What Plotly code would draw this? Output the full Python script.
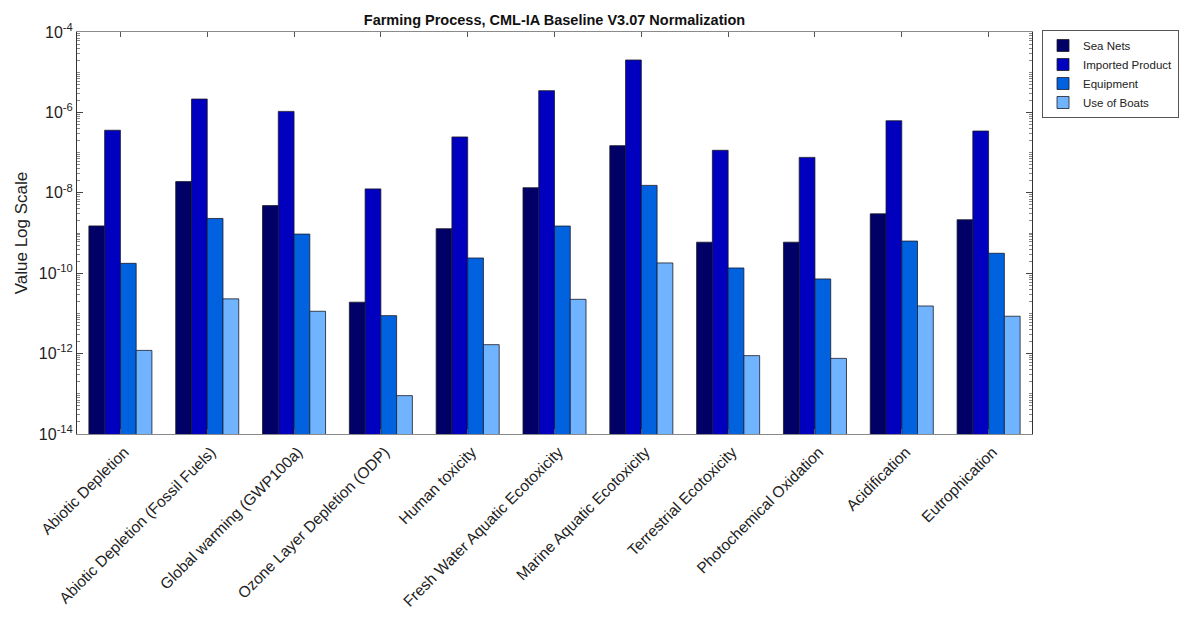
import plotly.graph_objects as go

categories = [
    "Abiotic Depletion",
    "Abiotic Depletion (Fossil Fuels)",
    "Global warming (GWP100a)",
    "Ozone Layer Depletion (ODP)",
    "Human toxicity",
    "Fresh Water Aquatic Ecotoxicity",
    "Marine Aquatic Ecotoxicity",
    "Terrestrial Ecotoxicity",
    "Photochemical Oxidation",
    "Acidification",
    "Eutrophication",
]

sea_nets = [1.5e-9, 1.9e-8, 4.8e-9, 1.9e-11, 1.28e-9, 1.34e-8, 1.49e-7, 5.9e-10, 5.9e-10, 3.0e-9, 2.14e-9]
imported_product = [3.6e-7, 2.15e-6, 1.06e-6, 1.25e-8, 2.45e-7, 3.47e-6, 2.01e-5, 1.14e-7, 7.6e-8, 6.2e-7, 3.44e-7]
equipment = [1.76e-10, 2.3e-9, 9.4e-10, 8.8e-12, 2.39e-10, 1.49e-9, 1.53e-8, 1.35e-10, 7.2e-11, 6.3e-10, 3.13e-10]
use_of_boats = [1.2e-12, 2.3e-11, 1.13e-11, 9.0e-14, 1.67e-12, 2.24e-11, 1.8e-10, 8.9e-13, 7.6e-13, 1.53e-11, 8.5e-12]

series_names = ["Sea Nets", "Imported Product", "Equipment", "Use of Boats"]
series_values = [sea_nets, imported_product, equipment, use_of_boats]
series_colors = ["#000066", "#0000BE", "#0062DE", "#70B4FF"]

# labelled decades every two powers of ten; odd decades and 2..9 multiples as minor ticks
label_decades = list(range(-14, -3, 2))
major_vals = [10.0 ** d for d in label_decades]
major_text = [f"10<sup>{d}</sup>" for d in label_decades]
minor_vals = [m * 10.0 ** d for d in range(-14, -4) for m in range(1, 10)
              if not (m == 1 and d % 2 == 0)]

FONT = "Liberation Sans, Arial, sans-serif"

fig = go.Figure()
for name, vals, color in zip(series_names, series_values, series_colors):
    fig.add_trace(go.Bar(
        x=categories,
        y=vals,
        name=name,
        marker=dict(color=color, line=dict(color="#1a1a2a", width=0.8)),
    ))

fig.update_layout(
    width=1182,
    height=622,
    margin=dict(l=77, r=150, t=32, b=188, autoexpand=False),
    paper_bgcolor="white",
    plot_bgcolor="white",
    barmode="group",
    bargap=0.274,
    bargroupgap=0,
    font=dict(family=FONT, color="#222222"),
    title=dict(
        text="<b>Farming Process, CML-IA Baseline V3.07 Normalization</b>",
        x=0.5, xref="paper", xanchor="center",
        y=0.968, yref="container", yanchor="middle",
        font=dict(size=14.5, color="#111111"),
    ),
    showlegend=True,
    legend=dict(
        x=1.0105, xanchor="left",
        y=1.005, yanchor="top",
        bordercolor="#555555", borderwidth=1,
        bgcolor="white",
        font=dict(size=11.5, color="#222222"),
        tracegroupgap=0,
        itemwidth=30,
    ),
)

fig.update_xaxes(
    type="category",
    range=[-0.5, 10.5],
    tickangle=-45,
    tickfont=dict(size=15.5, color="#222222"),
    ticklabelshift=4,
    ticklabelstandoff=2,
    ticks="inside",
    ticklen=5,
    tickcolor="#555555",
    showline=True,
    linecolor="#8a8a8a",
    linewidth=1,
    mirror="ticks",
    showgrid=False,
    zeroline=False,
)

fig.update_yaxes(
    type="log",
    range=[-14, -4],
    tickvals=major_vals,
    ticktext=major_text,
    tickfont=dict(size=16, color="#222222"),
    ticks="inside",
    ticklen=6,
    tickcolor="#444444",
    minor=dict(
        tickvals=minor_vals,
        ticks="inside",
        ticklen=3,
        tickcolor="#888888",
        showgrid=False,
    ),
    showline=True,
    linecolor="#333333",
    linewidth=1,
    mirror="ticks",
    showgrid=False,
    zeroline=False,
    title=dict(text="Value Log Scale", font=dict(size=17, color="#222222"), standoff=6),
)

fig.write_html("out.html")
